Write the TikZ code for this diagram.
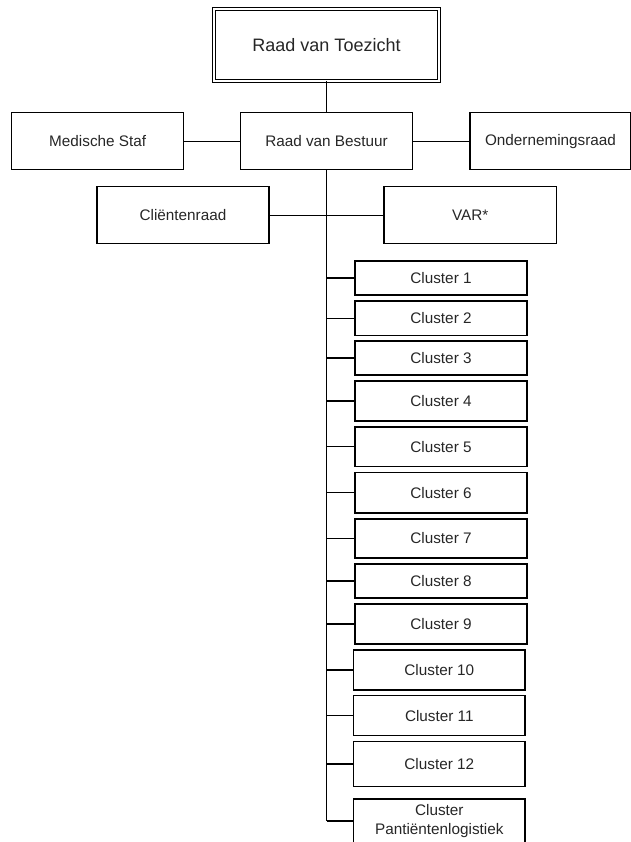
\documentclass[tikz,border=0pt]{standalone}
\usepackage{fontspec}
\setmainfont{Liberation Sans}
\begin{document}
\begin{tikzpicture}[x=1pt,y=-1pt,
  box/.style={draw, line width=1.2pt, inner sep=0pt, align=center, font=\fontsize{15.3}{19}\selectfont, text=black!85},
  link/.style={line width=1.2pt},
  trunk/.style={line width=1.8pt}]
\useasboundingbox (0,0) rectangle (630,842);
% top
\node[box, double, line width=1pt, double distance=2.2pt, minimum width=225pt, minimum height=72pt, font=\fontsize{18}{22}\selectfont] (rvt) at (326.5,45) {Raad van Toezicht};
\node[box, minimum width=172pt, minimum height=57pt] (ms) at (97.7,141.3) {Medische Staf};
\node[box, minimum width=171.3pt, minimum height=57pt] (rvb) at (326.5,141.3) {Raad van Bestuur};
\node[box, minimum width=161pt, minimum height=57pt] (or) at (550.5,141.3) {Ondernemingsraad};
\node[box, minimum width=172pt, minimum height=57pt] (cr) at (183,215.3) {Cliëntenraad};
\node[box, minimum width=172.7pt, minimum height=57pt] (var) at (470.3,215.3) {VAR*};
% clusters
\node[box, minimum width=172pt, minimum height=34pt] (c1) at (441,278) {Cluster 1};
\node[box, minimum width=172pt, minimum height=34.7pt] (c2) at (441,318.3) {Cluster 2};
\node[box, minimum width=172pt, minimum height=34pt] (c3) at (441,358) {Cluster 3};
\node[box, minimum width=172pt, minimum height=40pt] (c4) at (441,401) {Cluster 4};
\node[box, minimum width=172pt, minimum height=39.7pt] (c5) at (441,446.8) {Cluster 5};
\node[box, minimum width=172pt, minimum height=40.3pt] (c6) at (441,492.8) {Cluster 6};
\node[box, minimum width=172pt, minimum height=39pt] (c7) at (441,538.5) {Cluster 7};
\node[box, minimum width=172pt, minimum height=34pt] (c8) at (441,581) {Cluster 8};
\node[box, minimum width=172pt, minimum height=40pt] (c9) at (441,624) {Cluster 9};
\node[box, minimum width=171.3pt, minimum height=40pt] (c10) at (439.3,670) {Cluster 10};
\node[box, minimum width=171.3pt, minimum height=40pt] (c11) at (439.3,715.7) {Cluster 11};
\node[box, minimum width=171.3pt, minimum height=45pt] (c12) at (439.3,764) {Cluster 12};
\node[box, minimum width=171.3pt, minimum height=44pt] (cp) at (439.3,821) {Cluster\\Pantiëntenlogistiek};
\coordinate (tend) at (cp.west -| rvb.south);
% connectors
\draw[trunk] (rvt.south) -- (rvb.north);
\draw[link] (ms.east) -- (rvb.west);
\draw[link] (rvb.east) -- (or.west);
\draw[link] (cr.east) -- (var.west);
\draw[trunk] (rvb.south) -- (tend);
\foreach \c in {c1,c2,c3,c4,c5,c6,c7,c8,c9,c10,c11,c12,cp}
  \draw[link] (\c.west -| rvb.south) -- (\c.west);
\end{tikzpicture}
\end{document}
